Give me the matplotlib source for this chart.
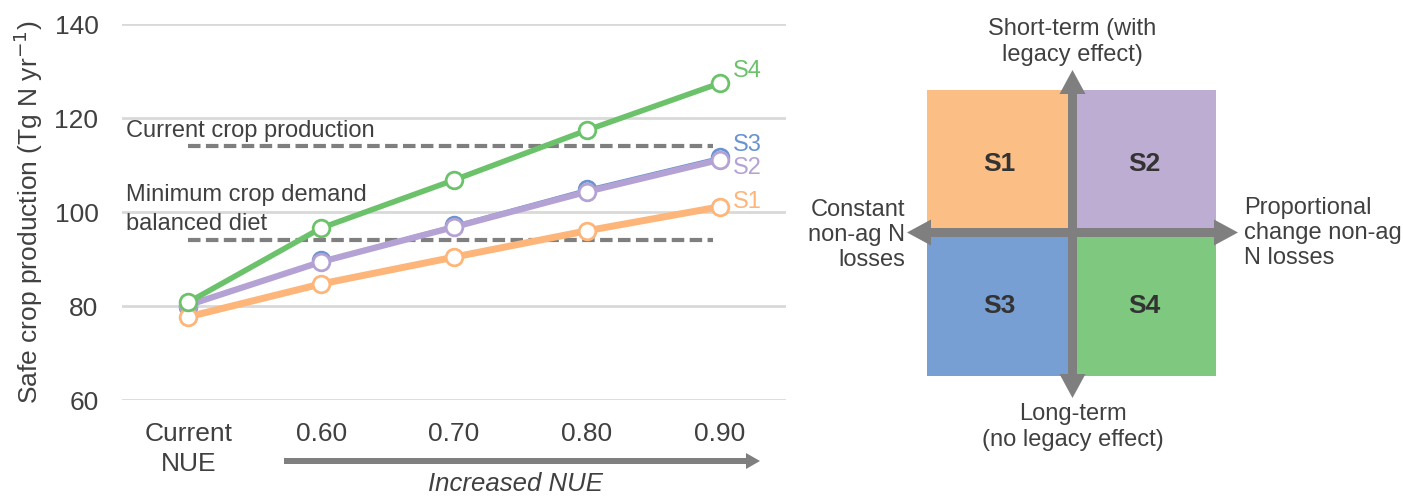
import matplotlib.pyplot as plt
from matplotlib.patches import Rectangle, FancyArrow

plt.rcParams['font.family'] = ['Liberation Sans', 'DejaVu Sans']

# data
categories = ['Current\nNUE', '0.60', '0.70', '0.80', '0.90']
s1 = [77.7, 84.7, 90.4, 96.0, 101.1]
s2 = [80.2, 89.4, 96.8, 104.3, 111.1]
s3 = [79.8, 89.7, 97.2, 104.9, 111.7]
s4 = [80.8, 96.6, 106.8, 117.4, 127.4]
current_production = 114
min_demand = 94
yticks = [60, 80, 100, 120, 140]

c1 = '#FDB57A'
c2 = '#B4A2D4'
c3 = '#6A93D1'
c4 = '#6CC26B'
grey = '#7F7F7F'
txt = '#404040'

fig = plt.figure(figsize=(14.03, 4.96), dpi=100)
W, H = 1403, 496

# left chart, placed in pixels
ax = fig.add_axes([122 / W, (H - 400) / H, 664 / W, 376 / H])
x = list(range(len(categories)))

mk = dict(marker='o', markersize=12, markerfacecolor='white', markeredgewidth=2)
ax.plot(x, s3, color=c3, lw=1.5, markeredgecolor=c3, zorder=3, **mk)
ax.plot(x, s2, color=c2, lw=4.5, markeredgecolor=c2, zorder=4, **mk)
ax.plot(x, s1, color=c1, lw=5, markeredgecolor=c1, zorder=5, **mk)
ax.plot(x, s4, color=c4, lw=4, markeredgecolor=c4, zorder=6, **mk)

ax.hlines([current_production, min_demand], 0, 3.95, colors=grey, lw=3,
          linestyles=(0, (3, 1.3)), zorder=2)

ax.text(-0.47, current_production + 3.3, 'Current crop production', fontsize=17,
        color=txt, va='center', ha='left')
ax.text(-0.47, min_demand + 9.6, 'Minimum crop demand', fontsize=17,
        color=txt, va='center', ha='left')
ax.text(-0.47, min_demand + 3.4, 'balanced diet', fontsize=17,
        color=txt, va='center', ha='left')

for lab, ys, col, dy in [('S4', s4, c4, 2.6), ('S3', s3, c3, 2.5),
                         ('S2', s2, c2, -1.8), ('S1', s1, c1, 1.0)]:
    ax.text(4.1, ys[-1] + dy, lab, fontsize=17, color=col, va='center', ha='left')

ax.set_xlim(-0.5, 4.5)
ax.set_ylim(60, 140)
ax.set_yticks(yticks)
ax.set_xticks(x)
ax.set_xticklabels(categories, fontsize=19, color=txt, linespacing=1.3)
ax.tick_params(axis='y', labelsize=19, labelcolor=txt, length=0, pad=17)
ax.tick_params(axis='x', length=0, pad=16)
ax.grid(axis='y', color='#D9D9D9', lw=2)
ax.set_axisbelow(True)
for sp in ax.spines.values():
    sp.set_visible(False)
ax.set_ylabel('Safe crop production (Tg N yr$^{-1}$)', fontsize=19, color=txt,
              labelpad=7)

# overlay in pixel coordinates for the arrows and the scenario diagram
ov = fig.add_axes([0, 0, 1, 1])
ov.set_xlim(0, W)
ov.set_ylim(H, 0)
ov.axis('off')

ov.add_patch(FancyArrow(284, 461, 462, 0, width=6, head_width=16, head_length=14,
                        length_includes_head=False, color=grey, lw=0))
ov.text(515, 484, 'Increased NUE', fontsize=18.5, style='italic', color=txt,
        ha='center', va='center')

# quadrants
cx, cy = 1072.5, 232.5
L, R, T, B = 927, 1216, 90, 376
ov.add_patch(Rectangle((L, T), cx - L, cy - T, color='#FBBF86', lw=0))
ov.add_patch(Rectangle((cx, T), R - cx, cy - T, color='#BEADD3', lw=0))
ov.add_patch(Rectangle((L, cy), cx - L, B - cy, color='#779FD3', lw=0))
ov.add_patch(Rectangle((cx, cy), R - cx, B - cy, color='#7EC97F', lw=0))

aw = dict(width=9, head_width=26, head_length=24, color=grey, lw=0,
          length_includes_head=True)
ov.add_patch(FancyArrow(cx, cy, 0, 70 - cy, **aw))
ov.add_patch(FancyArrow(cx, cy, 0, 398 - cy, **aw))
ov.add_patch(FancyArrow(cx, cy, 907 - cx, 0, **aw))
ov.add_patch(FancyArrow(cx, cy, 1238 - cx, 0, **aw))

qlab = dict(fontsize=19, fontweight='bold', color='#333333', ha='center', va='center')
ov.text((L + cx) / 2, 164, 'S1', **qlab)
ov.text((cx + R) / 2, 164, 'S2', **qlab)
ov.text((L + cx) / 2, 306, 'S3', **qlab)
ov.text((cx + R) / 2, 306, 'S4', **qlab)

dlab = dict(fontsize=17, color=txt, linespacing=1.2)
ov.text(cx, 42, 'Short-term (with\nlegacy effect)', ha='center', va='center', **dlab)
ov.text(cx, 427, 'Long-term\n(no legacy effect)', ha='center', va='center', **dlab)
ov.text(905, 235, 'Constant\nnon-ag N\nlosses', ha='right', va='center', **dlab)
ov.text(1244, 233, 'Proportional\nchange non-ag\nN losses', ha='left', va='center', **dlab)

fig.savefig('out.png', dpi=100)
